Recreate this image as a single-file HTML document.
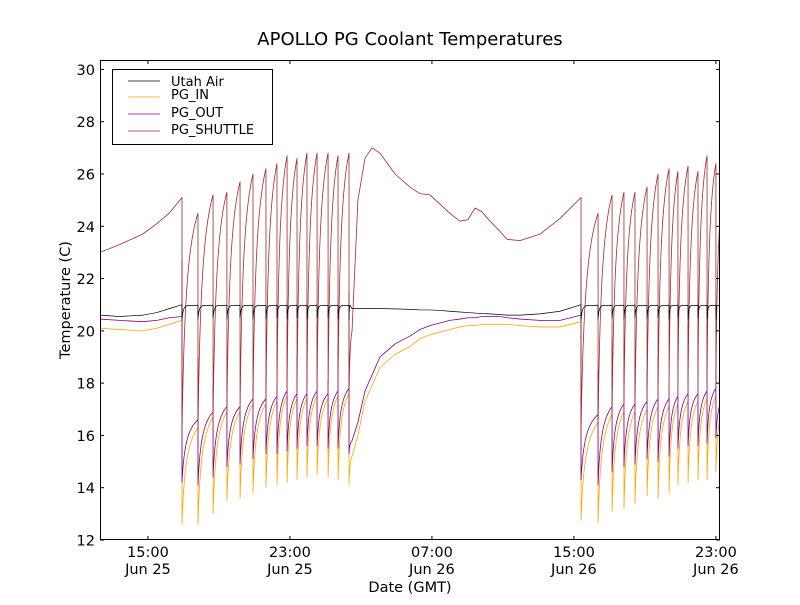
<!DOCTYPE html>
<html><head><meta charset="utf-8"><style>
body{margin:0;background:#fff}
svg text{font-family:"DejaVu Sans","Liberation Sans",sans-serif}
</style></head><body>
<svg id="chart" width="800" height="600" viewBox="0 0 800 600" xmlns="http://www.w3.org/2000/svg">
<rect x="0" y="0" width="800" height="600" fill="#fff"/>
<text x="410" y="45" font-size="18" text-anchor="middle">APOLLO PG Coolant Temperatures</text>
<g id="plot"></g>
<text x="410" y="592" font-size="14.5" text-anchor="middle">Date (GMT)</text>
<text x="70" y="300" font-size="14.5" text-anchor="middle" transform="rotate(-90 70 300)">Temperature (C)</text>
<g>
<rect x="112.5" y="69.5" width="160" height="75" fill="#fff" stroke="#000" stroke-width="1"/>
<line x1="128" y1="81" x2="160" y2="81" stroke="#000" stroke-width="0.8"/>
<text x="171" y="86" font-size="13">Utah Air</text>
<line x1="128" y1="97" x2="160" y2="97" stroke="#ffa500" stroke-width="0.8"/>
<text x="171" y="99" font-size="13">PG_IN</text>
<line x1="128" y1="114" x2="160" y2="114" stroke="#800080" stroke-width="0.8"/>
<text x="171" y="117" font-size="13">PG_OUT</text>
<line x1="128" y1="131" x2="160" y2="131" stroke="#a52a2a" stroke-width="0.8"/>
<text x="171" y="134" font-size="13">PG_SHUTTLE</text>
</g>
</svg>
<script>
// hours since Jun 25 00:00
const xTickHours = [15, 23, 31, 39, 47];
const xTickTimes = ["15:00", "23:00", "07:00", "15:00", "23:00"];
const xTickDays = ["Jun 25", "Jun 25", "Jun 26", "Jun 26", "Jun 26"];
const yTicks = [12, 14, 16, 18, 20, 22, 24, 26, 28, 30];

const preH = [12.3, 13.4, 14.7, 15.5, 16.2, 16.92];
const preSh = [23.0, 23.3, 23.7, 24.1, 24.5, 25.1];
const preIn = [20.1, 20.05, 20.0, 20.1, 20.25, 20.4];
const preOut = [20.45, 20.4, 20.35, 20.4, 20.5, 20.55];
const preAir = [20.6, 20.55, 20.6, 20.7, 20.85, 21.0];

const dropH1 = [16.92,17.82,18.67,19.45,20.19,20.92,21.65,22.27,22.84,23.40,23.96,24.53,25.15,25.71,26.33];
const shPk1 = [25.1,24.5,25.2,25.3,25.7,26.0,26.2,26.4,26.7,26.6,26.8,26.8,26.8,26.7,26.8];
const shLo1 = [16.0,16.1,16.6,16.9,16.8,17.2,17.3,17.6,17.8,17.6,17.8,17.9,17.6,17.9,17.3];
const inPk1 = [20.4,16.3,16.7,16.9,16.9,17.2,17.2,17.3,17.5,17.4,17.4,17.5,17.4,17.5,17.6];
const inLo1 = [12.6,12.6,13.0,13.5,13.6,13.8,14.0,14.1,14.2,14.3,14.4,14.5,14.4,14.3,14.1];
const outPk1 = [20.55,16.6,16.9,17.1,17.1,17.4,17.4,17.5,17.7,17.6,17.6,17.7,17.6,17.7,17.8];
const outLo1 = [14.2,14.1,14.4,14.8,14.9,15.1,15.3,15.3,15.4,15.5,15.6,15.6,15.5,15.5,15.3];
const outSpike1 = [22.7,19.0,17.9,18.9,17.0,17.9,18.3,17.9,20.2,19.0,20.2,20.2,18.1,19.5,21.5];
const airLo1 = [20.4,20.45,20.5,20.45,20.5,20.45,20.45,20.5,20.45,20.5,20.45,20.5,20.5,20.45,20.45];
const airPlateau = 20.98;

const midH = [26.5,26.83,27.23,27.62,28.07,28.92,29.76,30.33,30.89,31.45,32.0,32.58,33.03,33.43,33.82,34.27,34.84,35.23,35.96,37.09,38.22,39.40];
const midSh = [20.0,25.0,26.6,27.0,26.8,26.0,25.5,25.25,25.2,24.85,24.5,24.2,24.25,24.7,24.55,24.2,23.8,23.5,23.45,23.7,24.3,25.1];
const midIn = [15.2,16.0,17.3,17.9,18.6,19.1,19.4,19.7,19.85,19.95,20.05,20.15,20.2,20.2,20.25,20.25,20.25,20.25,20.2,20.15,20.15,20.35];
const midOut = [15.8,16.5,17.7,18.3,19.0,19.5,19.8,20.05,20.2,20.3,20.4,20.45,20.5,20.5,20.55,20.55,20.55,20.5,20.45,20.4,20.4,20.6];
const midAir = [20.85,20.85,20.85,20.85,20.85,20.84,20.82,20.8,20.8,20.78,20.75,20.72,20.7,20.68,20.66,20.65,20.62,20.6,20.6,20.65,20.75,21.0];

const dropH2 = [39.40,40.36,41.15,41.82,42.44,43.12,43.74,44.36,44.86,45.43,45.99,46.50,47.00];
const shPk2 = [25.1,24.5,25.2,25.3,25.3,25.5,26.0,26.2,26.1,26.3,26.1,26.7,26.4];
const shLo2 = [16.0,16.2,16.8,17.3,17.0,17.4,17.6,17.7,18.0,17.9,18.3,18.0,18.0];
const inPk2 = [20.35,16.5,16.8,16.9,16.9,17.0,17.1,17.1,17.2,17.3,17.3,17.4,17.5];
const inLo2 = [12.75,12.65,13.1,13.2,13.4,13.7,13.6,13.8,14.1,14.2,14.3,14.3,14.6];
const outPk2 = [20.6,16.8,17.1,17.2,17.2,17.3,17.4,17.4,17.5,17.6,17.6,17.7,17.8];
const outLo2 = [14.3,14.1,14.6,14.8,14.9,15.1,15.0,15.2,15.5,15.6,15.6,15.7,15.9];
const outSpike2 = [22.8,18.5,19.7,19.5,18.9,18.5,19.0,17.9,20.0,20.3,20.2,20.3,20.0];
const airLo2 = [20.4,20.45,20.5,20.45,20.5,20.45,20.5,20.45,20.5,20.45,20.5,20.45,20.45];
const endH = 47.23;
const endSh = 24.6, endIn = 16.0, endOut = 16.3, endAir = 20.95;

const X0 = 100, X1 = 720, Y0 = 540, Y1 = 60, HMIN = 12.3, HMAX = 47.23, VMIN = 12, VMAX = 30.36;
function sx(h){ return X0 + (h - HMIN) / (HMAX - HMIN) * (X1 - X0); }
function sy(v){ return Y0 - (v - VMIN) / (VMAX - VMIN) * (Y0 - Y1); }
const NS = "http://www.w3.org/2000/svg";
const plot = document.getElementById('plot');

function P(h, v){ return sx(h).toFixed(2) + "," + sy(v).toFixed(2); }
function curve(t0, lo, t1, pk){
  const dt = t1 - t0, d = pk - lo;
  return " C" + P(t0 + 0.12*dt, lo + 0.65*d) + " " + P(t0 + 0.45*dt, pk - 0.12*d) + " " + P(t1, pk);
}
function polyPart(hs, vs, start){
  let s = "";
  for (let i = start; i < hs.length; i++) s += " L" + P(hs[i], vs[i]);
  return s;
}
function buildSaw(pre, mid, end, b1, b2){
  let d = "M" + P(preH[0], pre[0]) + polyPart(preH, pre, 1);
  const blocks = [b1, b2];
  blocks.forEach((b, bi) => {
    const n = b.drops.length;
    for (let i = 0; i < n; i++){
      const t = b.drops[i];
      if (i > 0 || bi === 1) d += " L" + P(t, b.pk[i]);
      if (b.spike) d += " L" + P(t, b.spike[i]);
      d += " L" + P(t, b.lo[i]);
      if (i < n - 1) d += curve(t, b.lo[i], b.drops[i+1], b.pk[i+1]);
      else if (bi === 0) d += curve(t, b.lo[i], midH[0], mid[0]) + polyPart(midH, mid, 1);
      else d += curve(t, b.lo[i], endH + 0.25, end + 1.2);
    }
  });
  return d;
}
function addPath(d, color, w, name){
  const p = document.createElementNS(NS, 'path');
  p.setAttribute('d', d);
  p.setAttribute('fill', 'none');
  p.setAttribute('stroke', color);
  p.setAttribute('stroke-width', w);
  p.setAttribute('stroke-linejoin', 'round');
  p.setAttribute('clip-path', 'url(#clip)');
  
  
  plot.appendChild(p);
}
const defs = document.createElementNS(NS, 'defs');
defs.innerHTML = '<clipPath id="clip"><rect x="100" y="60" width="620" height="480"/></clipPath>';
plot.appendChild(defs);

function buildAir(){
  let d = "M" + P(preH[0], preAir[0]) + polyPart(preH, preAir, 1);
  [[dropH1, airLo1], [dropH2, airLo2]].forEach(([drops, lo], bi) => {
    for (let i = 0; i < drops.length; i++){
      const t = drops[i];
      d += " L" + P(t, airPlateau) + " L" + P(t, lo[i]);
      const next = (i < drops.length - 1) ? drops[i+1] : (bi === 0 ? midH[0] : endH);
      const dt = next - t;
      d += " C" + P(t + 0.05*dt, airPlateau - 0.13) + " " + P(t + 0.15*dt, airPlateau - 0.03) + " " + P(t + 0.35*dt, airPlateau - 0.01);
      if (i < drops.length - 1) d += " L" + P(next, airPlateau);
      else if (bi === 0) d += " L" + P(midH[0], midAir[0]) + polyPart(midH, midAir, 1);
      else d += " L" + P(endH, endAir);
    }
  });
  return d;
}

addPath(buildSaw(preIn, midIn, endIn, {drops:dropH1, pk:inPk1, lo:inLo1}, {drops:dropH2, pk:inPk2, lo:inLo2}), '#ffa500', 0.8, 'series-pg-in');
addPath(buildSaw(preOut, midOut, endOut, {drops:dropH1, pk:outPk1, lo:outLo1, spike:outSpike1}, {drops:dropH2, pk:outPk2, lo:outLo2, spike:outSpike2}), '#800080', 0.8, 'series-pg-out');
addPath(buildSaw(preSh, midSh, endSh, {drops:dropH1, pk:shPk1, lo:shLo1}, {drops:dropH2, pk:shPk2, lo:shLo2}), '#a52a2a', 0.8, 'series-pg-shuttle');
addPath(buildAir(), '#000', 0.7, 'series-utah-air');

const frame = document.createElementNS(NS, 'rect');
frame.setAttribute('x', 100.5); frame.setAttribute('y', 60.5);
frame.setAttribute('width', 619); frame.setAttribute('height', 479);
frame.setAttribute('fill', 'none'); frame.setAttribute('stroke', '#000');


plot.appendChild(frame);

yTicks.forEach(v => {
  const y = sy(v);
  const g = document.createElementNS(NS, 'g');
  
  
  g.innerHTML = '<line x1="100" y1="'+y+'" x2="104" y2="'+y+'" stroke="#000"/><line x1="716" y1="'+y+'" x2="720" y2="'+y+'" stroke="#000"/>' +
    '<text x="95" y="'+(y+5.5)+'" font-size="14.5" text-anchor="end">'+v+'</text>';
  plot.appendChild(g);
});
xTickHours.forEach((h, i) => {
  const x = sx(h);
  const g = document.createElementNS(NS, 'g');
  
  
  g.innerHTML = '<line x1="'+x+'" y1="540" x2="'+x+'" y2="536" stroke="#000"/><line x1="'+x+'" y1="60" x2="'+x+'" y2="64" stroke="#000"/>' +
    '<text x="'+x+'" y="557" font-size="14.5" text-anchor="middle">'+xTickTimes[i]+'</text>' +
    '<text x="'+x+'" y="574" font-size="14.5" text-anchor="middle">'+xTickDays[i]+'</text>';
  plot.appendChild(g);
});
</script>
</body></html>
